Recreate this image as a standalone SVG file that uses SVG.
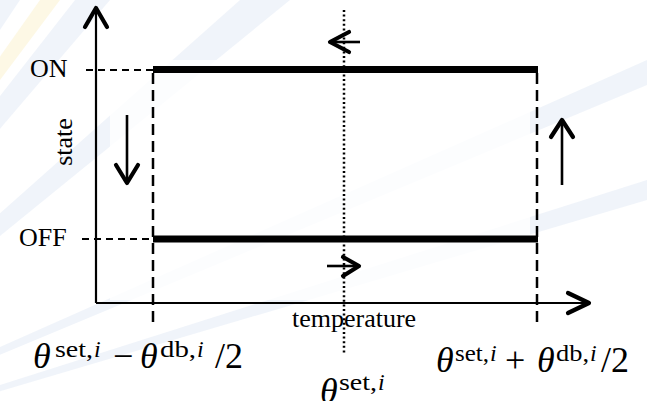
<svg xmlns="http://www.w3.org/2000/svg" width="647" height="401" viewBox="0 0 647 401">
<defs>
<style>
text{font-family:'Liberation Serif','Times New Roman',serif;fill:#000}
.lbl{font-size:26px}
.m{font-size:36px}
.mi{font-size:36px;font-style:italic}
.sup{font-size:24px}
.ax{stroke:#000;stroke-width:2.2;fill:none}
.head{stroke:#000;stroke-width:4.2;fill:none;stroke-linecap:round;stroke-linejoin:round}
.shaft{stroke:#000;stroke-width:2.6;fill:none}
.thick{stroke:#000;stroke-width:7;fill:none}
.dashv{stroke:#000;stroke-width:2.5;stroke-dasharray:11 6;fill:none}
.dashh{stroke:#000;stroke-width:2.2;stroke-dasharray:7 5;fill:none}
.dot{stroke:#000;stroke-width:2.5;stroke-dasharray:2 2.6;fill:none}
.rb{fill:#dde7f4;opacity:0.45}
.ry{fill:#fbf1cc;opacity:0.5}
</style>
</defs>
<rect width="647" height="401" fill="#ffffff"/>
<g id="background">
<polygon class="rb" points="-300,480 -10,0 20,0"/>
<polygon class="ry" points="-300,480 40,0 60,0"/>
<polygon class="rb" points="-300,480 75,0 110,0"/>
<polygon class="ry" points="-300,480 0,180 0,205"/>
<polygon class="rb" points="-300,480 0,230 0,255"/>
<polygon class="ry" points="-300,480 0,270 0,300"/>
<polygon class="rb" points="-300,480 0,310 0,330"/>
<polygon class="ry" points="-300,480 0,345 0,375"/>
<polygon class="rb" points="-300,480 0,385 0,401"/>
<polygon class="rb" points="-300,480 240,0 290,0" opacity="0.3"/>
<polygon class="rb" points="-300,480 647,60 647,85" opacity="0.3"/>
<polygon class="rb" points="-300,480 647,180 647,200" opacity="0.3"/>
<rect x="110" y="60" width="420" height="240" fill="#ffffff" opacity="0.8"/>
</g>
<g id="connectors">
<path class="ax" d="M96,303 V9"/>
<path class="head" d="M85,27 L96,8 L107,27"/>
<path class="ax" d="M96,303 H588"/>
<path class="head" d="M568,293 L589,303 L568,313"/>
<path class="dashh" d="M86,70 H153"/>
<path class="dashh" d="M82,239 H153"/>
<path class="dashv" d="M153,73 V324"/>
<path class="dashv" d="M537,73 V324"/>
<path class="dot" d="M344,10 V354"/>
<path class="shaft" d="M331,42 H360"/>
<path class="head" d="M349,32 L330,42 L349,52"/>
<path class="shaft" d="M327,266 H357"/>
<path class="head" d="M343,257 L359,266 L343,276"/>
<path class="shaft" d="M127,115 V181"/>
<path class="head" d="M116,165 L127,183 L138,165"/>
<path class="shaft" d="M562,185 V122"/>
<path class="head" d="M551,137 L562,120 L573,137"/>
</g>
<g id="on-line"><path class="thick" d="M153,69.5 H538"/></g>
<g id="off-line"><path class="thick" d="M153,239 H538"/></g>
<g id="label-on"><text class="lbl" x="30" y="77">ON</text></g>
<g id="label-off"><text class="lbl" x="19" y="246">OFF</text></g>
<g id="label-state"><text class="lbl" x="72" y="142" text-anchor="middle" transform="rotate(-90 72 142)">state</text></g>
<g id="label-temperature"><text class="lbl" x="292" y="327">temperature</text></g>
<g id="label-low">
<text class="mi" x="33" y="368">θ</text>
<text class="sup" x="55" y="357" textLength="38" lengthAdjust="spacingAndGlyphs">set,</text><text class="sup" x="94" y="357" font-style="italic">i</text>
<text class="m" x="113" y="368">−</text>
<text class="mi" x="140" y="368">θ</text>
<text class="sup" x="160" y="357" textLength="36" lengthAdjust="spacingAndGlyphs">db,</text><text class="sup" x="197" y="357" font-style="italic">i</text>
<text class="m" x="215" y="368">/2</text>
</g>
<g id="label-set">
<text class="mi" x="320" y="403">θ</text>
<text class="sup" x="339" y="390" textLength="38" lengthAdjust="spacingAndGlyphs">set,</text><text class="sup" x="378" y="390" font-style="italic">i</text>
</g>
<g id="label-high">
<text class="mi" x="436" y="372">θ</text>
<text class="sup" x="455" y="361" textLength="34" lengthAdjust="spacingAndGlyphs">set,</text><text class="sup" x="490" y="361" font-style="italic">i</text>
<text class="m" x="505" y="372">+</text>
<text class="mi" x="537" y="372">θ</text>
<text class="sup" x="556" y="361" textLength="33" lengthAdjust="spacingAndGlyphs">db,</text><text class="sup" x="590" y="361" font-style="italic">i</text>
<text class="m" x="601" y="372">/2</text>
</g>
</svg>
